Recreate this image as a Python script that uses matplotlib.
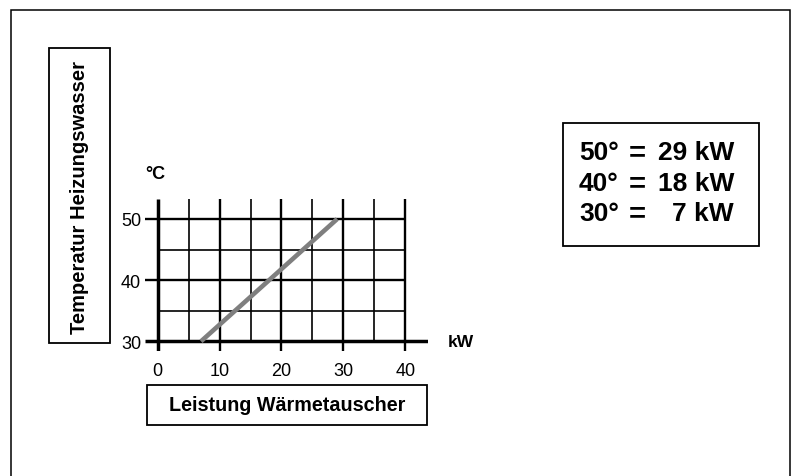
import matplotlib
matplotlib.use('Agg')
import matplotlib.pyplot as plt
from matplotlib.patches import Rectangle

plt.rcParams['font.family'] = ['Liberation Sans', 'DejaVu Sans']

# data
temps = [30, 40, 50]          # °C
power = [7, 18, 29]           # kW
x_ticks = [0, 10, 20, 30, 40]
y_ticks = [30, 40, 50]
x_minor = [5, 15, 25, 35]
y_minor = [35, 45]
y_title = 'Temperatur Heizungswasser'
x_title = 'Leistung Wärmetauscher'

W, H = 801, 477
fig = plt.figure(figsize=(W / 100, H / 100), dpi=100)

# overlay in pixel coords for frame, boxes and free text
ov = fig.add_axes([0, 0, 1, 1], zorder=0)
ov.set_xlim(0, W)
ov.set_ylim(H, 0)
ov.axis('off')

ov.plot([11, 11, 790, 790], [H, 11, 11, H], color='black', lw=1.1,
        solid_joinstyle='miter')

def box(x0, y0, x1, y1):
    ov.add_patch(Rectangle((x0, y0), x1 - x0, y1 - y0, fill=False,
                           edgecolor='black', lw=1.3))

box(49, 49, 110, 344)
ov.text(80, 198, y_title, rotation=90, ha='center', va='center',
        fontsize=14.5, fontweight='bold')

box(147, 386, 427, 426)
ov.text(287.5, 406, x_title, ha='center', va='center',
        fontsize=14.2, fontweight='bold')

box(563, 124, 759, 247)
line_y = [153, 184, 214]
for yy, t, p in zip(line_y, temps[::-1], power[::-1]):
    ov.text(579, yy, f'{t}°', ha='left', va='center', fontsize=19, fontweight='bold')
    ov.text(637, yy, '=', ha='center', va='center', fontsize=21, fontweight='bold')
    ov.text(734, yy, f'{p} kW', ha='right', va='center', fontsize=19, fontweight='bold')

# chart axes, limits chosen so grid lines overhang like the drawing
x0, x1 = -2.0, 43.6
y0, y1 = 28.5, 53.2
px_l, px_r = 145.3, 427.6
px_b, px_t = 351.5, 200.4
ax = fig.add_axes([px_l / W, 1 - px_b / H, (px_r - px_l) / W, (px_b - px_t) / H],
                  zorder=1)
ax.patch.set_visible(False)
ax.set_xlim(x0, x1)
ax.set_ylim(y0, y1)
for s in ax.spines.values():
    s.set_visible(False)

ax.vlines(x_minor, 30, y1, color='black', lw=1.2)
ax.hlines(y_minor, 0, 40, color='black', lw=1.2)
ax.vlines(x_ticks[1:], y0, y1, color='black', lw=1.7)
ax.hlines(y_ticks[1:], x0, 40, color='black', lw=1.7)
ax.vlines(0, y0, y1, color='black', lw=2.5)
ax.hlines(30, x0, x1, color='black', lw=2.5)

ax.plot(power, temps, color='#7f7f7f', lw=3.3, solid_capstyle='butt', zorder=3)

ax.set_xticks(x_ticks)
ax.set_yticks(y_ticks)
ax.tick_params(length=0, labelsize=13)
ax.tick_params(axis='x', pad=8)
ax.tick_params(axis='y', pad=3)

ax.text(-0.4, y1 + 4.3, '°C', ha='center', va='center', fontsize=13, fontweight='bold')
ax.text(46.9, 30, 'kW', ha='left', va='center', fontsize=12.5, fontweight='bold')

fig.savefig('out.png', dpi=100)
